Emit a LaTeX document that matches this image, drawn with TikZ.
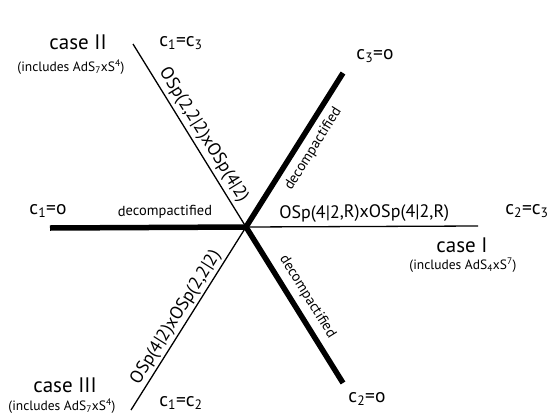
\documentclass[tikz,border=0pt]{standalone}
\usepackage{fontspec}
\setmainfont{PT Sans}
\begin{document}
\begin{tikzpicture}[x=1pt,y=-1pt,
  thinline/.style={line width=1.3pt},
  thickline/.style={line width=5.5pt},
  casetxt/.style={font=\fontsize{21}{23}\selectfont, inner sep=0pt},
  incltxt/.style={font=\fontsize{13.5}{15}\selectfont, inner sep=0pt},
  eqtxt/.style={font=\fontsize{19.5}{21}\selectfont, inner sep=0pt},
  grptxt/.style={font=\fontsize{18}{20}\selectfont, sloped, inner sep=0pt},
  deco/.style={font=\fontsize{14.5}{16}\selectfont, sloped, inner sep=0pt}]
\useasboundingbox (0,0) rectangle (553,415);
\coordinate (c) at (246,227);
\coordinate (l) at (50,228);
\coordinate (r) at (478,226);
\coordinate (ul) at (133,44);
\coordinate (ur) at (343,73);
\coordinate (dl) at (131,410);
\coordinate (dr) at (343,383);

\draw[thinline] (ul) -- (c) node[grptxt, pos=0.533, above=3pt] {OSp(2,2|2)xOSp(4|2)};
\draw[thinline] (c) -- (r) node[grptxt, pos=0.51, above=4pt] {OSp(4|2,R)xOSp(4|2,R)};
\draw[thinline] (dl) -- (c) node[grptxt, pos=0.473, above=2pt] {OSp(4|2)xOSp(2,2|2)};
\draw[thickline] (l) -- (c) node[deco, pos=0.587, above=6pt] {decompactified};
\draw[thickline] (c) -- (ur) node[deco, pos=0.56, below=6pt] {decompactified};
\draw[thickline] (c) -- (dr) node[deco, pos=0.5, above=6pt] {decompactified};

\node[casetxt] (c2) at (78,42) {case II};
\node[incltxt] (i2) at (71,67) {(includes AdS\textsubscript{7}xS\textsuperscript{4})};
\node[casetxt] (c1) at (462,245) {case I};
\node[incltxt] (i1) at (463,265) {(includes AdS\textsubscript{4}xS\textsuperscript{7})};
\node[casetxt] (c3) at (65,385) {case III};
\node[incltxt] (i3) at (62,406) {(includes AdS\textsubscript{7}xS\textsuperscript{4})};

\node[eqtxt] (e13) at (181,43) {c\textsubscript{1}=c\textsubscript{3}};
\node[eqtxt] (e3o) at (375,56) {c\textsubscript{3}=o};
\node[eqtxt] (e1o) at (48,211) {c\textsubscript{1}=o};
\node[eqtxt] (e23) at (527,211) {c\textsubscript{2}=c\textsubscript{3}};
\node[eqtxt] (e12) at (181,403) {c\textsubscript{1}=c\textsubscript{2}};
\node[eqtxt] (e2o) at (367,399) {c\textsubscript{2}=o};
\end{tikzpicture}
\end{document}
